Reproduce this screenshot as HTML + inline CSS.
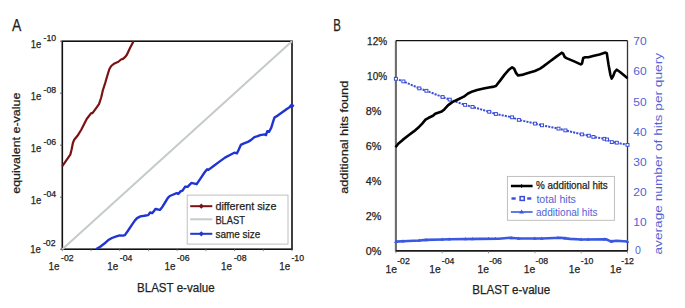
<!DOCTYPE html>
<html><head><meta charset="utf-8"><style>
html,body{margin:0;padding:0;background:#fff;}
svg{display:block;}
text{font-family:"Liberation Sans",sans-serif;stroke-width:0.25px;paint-order:stroke;}
</style></head><body>
<svg width="685" height="308" viewBox="0 0 685 308">
<rect width="685" height="308" fill="#fff"/>
<rect x="62.3" y="41.2" width="229.7" height="208.0" fill="none" stroke="#111" stroke-width="1.6"/>
<line x1="60.0" y1="41.2" x2="62.3" y2="41.2" stroke="#555" stroke-width="0.9"/>
<line x1="60.0" y1="93.2" x2="62.3" y2="93.2" stroke="#555" stroke-width="0.9"/>
<line x1="60.0" y1="145.2" x2="62.3" y2="145.2" stroke="#555" stroke-width="0.9"/>
<line x1="60.0" y1="197.2" x2="62.3" y2="197.2" stroke="#555" stroke-width="0.9"/>
<line x1="60.0" y1="249.2" x2="62.3" y2="249.2" stroke="#555" stroke-width="0.9"/>
<line x1="62.3" y1="249.2" x2="62.3" y2="251.2" stroke="#777" stroke-width="0.8"/>
<line x1="91.0" y1="249.2" x2="91.0" y2="251.2" stroke="#777" stroke-width="0.8"/>
<line x1="119.7" y1="249.2" x2="119.7" y2="251.2" stroke="#777" stroke-width="0.8"/>
<line x1="148.4" y1="249.2" x2="148.4" y2="251.2" stroke="#777" stroke-width="0.8"/>
<line x1="177.1" y1="249.2" x2="177.1" y2="251.2" stroke="#777" stroke-width="0.8"/>
<line x1="205.9" y1="249.2" x2="205.9" y2="251.2" stroke="#777" stroke-width="0.8"/>
<line x1="234.6" y1="249.2" x2="234.6" y2="251.2" stroke="#777" stroke-width="0.8"/>
<line x1="263.3" y1="249.2" x2="263.3" y2="251.2" stroke="#777" stroke-width="0.8"/>
<line x1="292.0" y1="249.2" x2="292.0" y2="251.2" stroke="#777" stroke-width="0.8"/>
<line x1="62.3" y1="249.2" x2="292.0" y2="41.2" stroke="#c5cbc8" stroke-width="2"/>
<polyline points="62.3,166.2 65.8,161.2 70.3,154.7 71.6,149.5 72.9,143.0 74.2,139.7 77.5,135.8 81.4,129.5 86.7,119.0 91.2,113.2 92.5,113.2 95.8,108.6 99.0,104.1 101.2,97.5 102.8,90.5 105.4,82.3 107.3,75.8 109.3,69.3 111.2,66.0 114.5,63.4 118.4,61.8 121.0,59.5 123.0,58.9 125.5,56.6 127.0,54.5 130.0,48.0 133.6,41.2" stroke="#7a1214" stroke-width="2.2" fill="none" stroke-linejoin="round"/>
<polyline points="96.3,249.0 100.2,246.8 104.1,243.8 108.0,240.3 111.9,238.0 116.4,236.3 119.7,235.4 122.9,235.6 124.9,235.1 128.8,229.5 132.7,223.7 135.0,220.4 137.1,218.1 140.4,216.4 144.3,215.8 148.2,215.1 150.1,212.5 152.1,213.2 154.0,211.2 155.3,209.0 157.3,209.3 159.9,209.9 162.5,206.7 165.7,201.5 167.7,198.2 169.8,196.0 173.4,194.5 176.6,193.2 178.3,194.0 180.5,191.4 182.5,190.6 185.0,186.8 187.6,186.8 191.5,182.9 193.4,183.3 196.7,184.2 200.6,178.4 204.5,172.5 207.1,169.3 208.4,169.9 213.6,166.0 218.8,162.1 225.0,157.6 230.4,154.7 234.3,152.7 236.9,153.4 238.8,149.5 240.8,144.9 243.4,143.6 247.9,141.9 250.5,140.4 254.4,137.1 257.7,136.2 260.2,135.1 264.7,134.4 266.0,135.1 267.3,131.2 269.0,131.8 271.2,127.9 273.2,121.4 274.5,117.5 277.7,115.6 282.3,112.3 286.8,109.1 291.8,105.8" stroke="#2034d0" stroke-width="2.4" fill="none" stroke-linejoin="round"/>
<path d="M291.8,102.8 L294.5,105.8 L291.8,108.8 L289.1,105.8Z" fill="#2034d0"/>
<rect x="187.2" y="195.1" width="100.8" height="49" fill="#fff" stroke="#b8b8b8" stroke-width="0.9"/>
<line x1="190.2" y1="206.2" x2="212.3" y2="206.2" stroke="#7a1214" stroke-width="2"/>
<path d="M201.3,203.6 L203.9,206.2 L201.3,208.8 L198.7,206.2Z" fill="#7a1214"/>
<line x1="190.2" y1="219.3" x2="212.3" y2="219.3" stroke="#c5cbc8" stroke-width="2"/>
<line x1="190.2" y1="233.8" x2="212.3" y2="233.8" stroke="#2236d2" stroke-width="2"/>
<path d="M201.3,231.2 L203.9,233.8 L201.3,236.4 L198.7,233.8Z" fill="#2236d2"/>
<text x="215.4" y="210.2" font-size="11" fill="#231f20" stroke="#231f20" text-anchor="start" textLength="61" lengthAdjust="spacingAndGlyphs">different size</text>
<text x="215.4" y="223.5" font-size="11" fill="#231f20" stroke="#231f20" text-anchor="start" textLength="29.5" lengthAdjust="spacingAndGlyphs">BLAST</text>
<text x="215.4" y="237.8" font-size="11" fill="#231f20" stroke="#231f20" text-anchor="start" textLength="45" lengthAdjust="spacingAndGlyphs">same size</text>
<text x="30.8" y="47.8" font-size="11.2" fill="#231f20" stroke="#231f20" text-anchor="start" textLength="10.6" lengthAdjust="spacingAndGlyphs">1e</text>
<text x="43.5" y="41.0" font-size="8.2" fill="#231f20" stroke="#231f20" text-anchor="start" textLength="12.6" lengthAdjust="spacingAndGlyphs">-10</text>
<text x="30.8" y="99.8" font-size="11.2" fill="#231f20" stroke="#231f20" text-anchor="start" textLength="10.6" lengthAdjust="spacingAndGlyphs">1e</text>
<text x="43.5" y="93.0" font-size="8.2" fill="#231f20" stroke="#231f20" text-anchor="start" textLength="12.6" lengthAdjust="spacingAndGlyphs">-08</text>
<text x="30.8" y="151.8" font-size="11.2" fill="#231f20" stroke="#231f20" text-anchor="start" textLength="10.6" lengthAdjust="spacingAndGlyphs">1e</text>
<text x="43.5" y="145.0" font-size="8.2" fill="#231f20" stroke="#231f20" text-anchor="start" textLength="12.6" lengthAdjust="spacingAndGlyphs">-06</text>
<text x="30.8" y="203.8" font-size="11.2" fill="#231f20" stroke="#231f20" text-anchor="start" textLength="10.6" lengthAdjust="spacingAndGlyphs">1e</text>
<text x="43.5" y="197.0" font-size="8.2" fill="#231f20" stroke="#231f20" text-anchor="start" textLength="12.6" lengthAdjust="spacingAndGlyphs">-04</text>
<text x="30.2" y="253.0" font-size="11.2" fill="#231f20" stroke="#231f20" text-anchor="start" textLength="10.6" lengthAdjust="spacingAndGlyphs">1e</text>
<text x="42.9" y="246.2" font-size="8.2" fill="#231f20" stroke="#231f20" text-anchor="start" textLength="12.6" lengthAdjust="spacingAndGlyphs">-02</text>
<text x="48.4" y="270.1" font-size="11.2" fill="#231f20" stroke="#231f20" text-anchor="start" textLength="11.0" lengthAdjust="spacingAndGlyphs">1e</text>
<text x="61.1" y="260.8" font-size="8.2" fill="#231f20" stroke="#231f20" text-anchor="start" textLength="12.6" lengthAdjust="spacingAndGlyphs">-02</text>
<text x="107.2" y="270.1" font-size="11.2" fill="#231f20" stroke="#231f20" text-anchor="start" textLength="11.0" lengthAdjust="spacingAndGlyphs">1e</text>
<text x="119.8" y="260.8" font-size="8.2" fill="#231f20" stroke="#231f20" text-anchor="start" textLength="12.6" lengthAdjust="spacingAndGlyphs">-04</text>
<text x="164.4" y="270.1" font-size="11.2" fill="#231f20" stroke="#231f20" text-anchor="start" textLength="11.0" lengthAdjust="spacingAndGlyphs">1e</text>
<text x="176.9" y="260.8" font-size="8.2" fill="#231f20" stroke="#231f20" text-anchor="start" textLength="12.6" lengthAdjust="spacingAndGlyphs">-06</text>
<text x="221.1" y="270.1" font-size="11.2" fill="#231f20" stroke="#231f20" text-anchor="start" textLength="11.0" lengthAdjust="spacingAndGlyphs">1e</text>
<text x="233.9" y="260.8" font-size="8.2" fill="#231f20" stroke="#231f20" text-anchor="start" textLength="12.6" lengthAdjust="spacingAndGlyphs">-08</text>
<text x="279.2" y="270.1" font-size="11.2" fill="#231f20" stroke="#231f20" text-anchor="start" textLength="11.0" lengthAdjust="spacingAndGlyphs">1e</text>
<text x="291.4" y="260.8" font-size="8.2" fill="#231f20" stroke="#231f20" text-anchor="start" textLength="12.6" lengthAdjust="spacingAndGlyphs">-10</text>
<text x="137.0" y="291.6" font-size="12.3" fill="#231f20" stroke="#231f20" text-anchor="start" textLength="77.6" lengthAdjust="spacingAndGlyphs">BLAST e-value</text>
<text x="20.3" y="143.2" font-size="10.5" fill="#231f20" stroke="#231f20" text-anchor="middle" textLength="101.2" lengthAdjust="spacingAndGlyphs" transform="rotate(-90 20.3 143.2)">equivalent e-value</text>
<text x="11.9" y="30.9" font-size="16" fill="#231f20" stroke="#231f20" text-anchor="start" textLength="9.3" lengthAdjust="spacingAndGlyphs">A</text>
<line x1="395.9" y1="40.6" x2="395.9" y2="251.70000000000002" stroke="#6c6c6c" stroke-width="2.1"/>
<line x1="395.9" y1="250.9" x2="627.5" y2="250.9" stroke="#1a1a1a" stroke-width="1.6"/>
<line x1="395.9" y1="40.6" x2="627.5" y2="40.6" stroke="#111" stroke-width="1.3"/>
<line x1="627.5" y1="40.6" x2="627.5" y2="250.9" stroke="#333" stroke-width="1.3"/>
<line x1="395.9" y1="250.9" x2="395.9" y2="253.3" stroke="#777" stroke-width="0.8"/>
<line x1="442.2" y1="250.9" x2="442.2" y2="253.3" stroke="#777" stroke-width="0.8"/>
<line x1="488.5" y1="250.9" x2="488.5" y2="253.3" stroke="#777" stroke-width="0.8"/>
<line x1="534.9" y1="250.9" x2="534.9" y2="253.3" stroke="#777" stroke-width="0.8"/>
<line x1="581.2" y1="250.9" x2="581.2" y2="253.3" stroke="#777" stroke-width="0.8"/>
<line x1="627.5" y1="250.9" x2="627.5" y2="253.3" stroke="#777" stroke-width="0.8"/>
<polyline points="395.9,241.6 402.7,241.3 419.3,240.5 426.1,239.9 442.2,239.5 450.0,239.2 479.2,238.9 498.7,238.7 510.0,237.7 518.8,238.5 535.3,238.5 542.1,238.5 560.6,237.7 570.0,238.9 581.7,239.5 606.0,239.3 610.9,241.4 616.7,240.7 627.4,241.5" stroke="#3a58e0" stroke-width="2.6" fill="none" stroke-linejoin="round"/>
<path d="M395.9,239.6 L397.7,242.9 L394.1,242.9Z" fill="#3a58e0"/>
<path d="M402.9,239.3 L404.7,242.6 L401.1,242.6Z" fill="#3a58e0"/>
<path d="M419.1,238.5 L420.9,241.8 L417.3,241.8Z" fill="#3a58e0"/>
<path d="M426.0,237.9 L427.8,241.2 L424.2,241.2Z" fill="#3a58e0"/>
<path d="M442.2,237.5 L444.0,240.8 L440.4,240.8Z" fill="#3a58e0"/>
<path d="M449.2,237.2 L451.0,240.5 L447.4,240.5Z" fill="#3a58e0"/>
<path d="M465.4,237.0 L467.2,240.3 L463.6,240.3Z" fill="#3a58e0"/>
<path d="M472.4,237.0 L474.2,240.3 L470.6,240.3Z" fill="#3a58e0"/>
<path d="M488.5,236.8 L490.3,240.1 L486.7,240.1Z" fill="#3a58e0"/>
<path d="M495.5,236.7 L497.3,240.0 L493.7,240.0Z" fill="#3a58e0"/>
<path d="M511.7,235.9 L513.5,239.2 L509.9,239.2Z" fill="#3a58e0"/>
<path d="M518.7,236.5 L520.5,239.8 L516.9,239.8Z" fill="#3a58e0"/>
<path d="M534.9,236.5 L536.7,239.8 L533.1,239.8Z" fill="#3a58e0"/>
<path d="M541.8,236.5 L543.6,239.8 L540.0,239.8Z" fill="#3a58e0"/>
<path d="M558.0,235.8 L559.8,239.1 L556.2,239.1Z" fill="#3a58e0"/>
<path d="M565.0,236.3 L566.8,239.6 L563.2,239.6Z" fill="#3a58e0"/>
<path d="M581.2,237.5 L583.0,240.8 L579.4,240.8Z" fill="#3a58e0"/>
<path d="M588.2,237.4 L590.0,240.7 L586.4,240.7Z" fill="#3a58e0"/>
<path d="M604.3,237.3 L606.1,240.6 L602.5,240.6Z" fill="#3a58e0"/>
<path d="M611.3,239.4 L613.1,242.7 L609.5,242.7Z" fill="#3a58e0"/>
<path d="M627.5,239.5 L629.3,242.8 L625.7,242.8Z" fill="#3a58e0"/>
<polyline points="395.9,78.8 403.4,81.4 419.3,88.4 426.4,90.8 442.6,97.0 449.7,99.6 465.1,104.9 472.5,106.9 489.2,111.8 495.9,114.0 512.1,117.3 518.9,119.9 535.1,123.6 542.0,125.3 558.5,128.6 565.4,130.4 581.9,134.4 588.8,135.7 593.4,136.9 604.4,138.8 607.0,139.5 611.8,142.1 616.8,142.7 627.5,144.9" stroke="#3a4dd6" stroke-width="2" fill="none" stroke-dasharray="2.1 1.1"/>
<rect x="394.4" y="77.4" width="3.0" height="2.8" fill="#fff" stroke="#3a4dd6" stroke-width="1"/>
<rect x="401.9" y="80.0" width="3.0" height="2.8" fill="#fff" stroke="#3a4dd6" stroke-width="1"/>
<rect x="417.8" y="87.0" width="3.0" height="2.8" fill="#fff" stroke="#3a4dd6" stroke-width="1"/>
<rect x="424.9" y="89.4" width="3.0" height="2.8" fill="#fff" stroke="#3a4dd6" stroke-width="1"/>
<rect x="441.1" y="95.6" width="3.0" height="2.8" fill="#fff" stroke="#3a4dd6" stroke-width="1"/>
<rect x="448.2" y="98.2" width="3.0" height="2.8" fill="#fff" stroke="#3a4dd6" stroke-width="1"/>
<rect x="463.6" y="103.5" width="3.0" height="2.8" fill="#fff" stroke="#3a4dd6" stroke-width="1"/>
<rect x="471.0" y="105.5" width="3.0" height="2.8" fill="#fff" stroke="#3a4dd6" stroke-width="1"/>
<rect x="487.7" y="110.4" width="3.0" height="2.8" fill="#fff" stroke="#3a4dd6" stroke-width="1"/>
<rect x="494.4" y="112.6" width="3.0" height="2.8" fill="#fff" stroke="#3a4dd6" stroke-width="1"/>
<rect x="510.6" y="115.9" width="3.0" height="2.8" fill="#fff" stroke="#3a4dd6" stroke-width="1"/>
<rect x="517.4" y="118.5" width="3.0" height="2.8" fill="#fff" stroke="#3a4dd6" stroke-width="1"/>
<rect x="533.6" y="122.2" width="3.0" height="2.8" fill="#fff" stroke="#3a4dd6" stroke-width="1"/>
<rect x="540.5" y="123.9" width="3.0" height="2.8" fill="#fff" stroke="#3a4dd6" stroke-width="1"/>
<rect x="557.0" y="127.2" width="3.0" height="2.8" fill="#fff" stroke="#3a4dd6" stroke-width="1"/>
<rect x="563.9" y="129.0" width="3.0" height="2.8" fill="#fff" stroke="#3a4dd6" stroke-width="1"/>
<rect x="580.4" y="133.0" width="3.0" height="2.8" fill="#fff" stroke="#3a4dd6" stroke-width="1"/>
<rect x="587.3" y="134.3" width="3.0" height="2.8" fill="#fff" stroke="#3a4dd6" stroke-width="1"/>
<rect x="591.9" y="135.5" width="3.0" height="2.8" fill="#fff" stroke="#3a4dd6" stroke-width="1"/>
<rect x="602.9" y="137.4" width="3.0" height="2.8" fill="#fff" stroke="#3a4dd6" stroke-width="1"/>
<rect x="605.5" y="138.1" width="3.0" height="2.8" fill="#fff" stroke="#3a4dd6" stroke-width="1"/>
<rect x="610.3" y="140.7" width="3.0" height="2.8" fill="#fff" stroke="#3a4dd6" stroke-width="1"/>
<rect x="615.3" y="141.3" width="3.0" height="2.8" fill="#fff" stroke="#3a4dd6" stroke-width="1"/>
<rect x="626.0" y="143.5" width="3.0" height="2.8" fill="#fff" stroke="#3a4dd6" stroke-width="1"/>
<polyline points="395.6,147.2 398.2,143.8 402.7,139.9 408.6,135.3 413.8,131.4 419.0,126.9 422.2,123.6 425.5,119.7 428.7,117.8 433.0,115.8 435.2,113.8 441.7,111.6 444.3,109.4 448.2,105.1 452.7,101.9 457.9,99.5 463.8,96.7 468.0,93.5 472.5,91.4 477.1,90.1 483.6,88.6 488.8,87.5 494.0,86.6 495.9,86.0 500.5,80.1 504.4,74.9 508.9,69.7 512.1,67.3 514.1,68.6 516.0,72.9 518.0,75.5 523.2,74.6 529.7,72.5 534.9,71.0 540.1,68.6 543.0,66.6 549.5,61.8 556.0,56.9 561.8,52.7 563.1,53.6 564.8,57.1 567.0,58.4 574.2,61.4 580.7,64.4 582.0,63.6 583.2,58.0 585.2,57.3 588.4,57.3 593.0,56.0 599.5,54.4 605.5,52.6 606.8,53.2 608.5,64.4 610.4,74.8 611.7,78.6 613.0,76.4 614.9,71.6 616.8,69.7 619.7,71.7 624.0,75.3 627.5,78.3" stroke="#000" stroke-width="2.6" fill="none" stroke-linejoin="round"/>
<text x="365.7" y="255.1" font-size="10.7" fill="#231f20" stroke="#231f20" text-anchor="start" textLength="15.6" lengthAdjust="spacingAndGlyphs">0%</text>
<text x="365.7" y="220.1" font-size="10.7" fill="#231f20" stroke="#231f20" text-anchor="start" textLength="15.6" lengthAdjust="spacingAndGlyphs">2%</text>
<text x="365.7" y="185.1" font-size="10.7" fill="#231f20" stroke="#231f20" text-anchor="start" textLength="15.6" lengthAdjust="spacingAndGlyphs">4%</text>
<text x="365.7" y="150.1" font-size="10.7" fill="#231f20" stroke="#231f20" text-anchor="start" textLength="15.6" lengthAdjust="spacingAndGlyphs">6%</text>
<text x="365.7" y="115.10000000000001" font-size="10.7" fill="#231f20" stroke="#231f20" text-anchor="start" textLength="15.6" lengthAdjust="spacingAndGlyphs">8%</text>
<text x="367.1" y="80.10000000000001" font-size="10.7" fill="#231f20" stroke="#231f20" text-anchor="start" textLength="20.0" lengthAdjust="spacingAndGlyphs">10%</text>
<text x="367.1" y="45.10000000000001" font-size="10.7" fill="#231f20" stroke="#231f20" text-anchor="start" textLength="20.0" lengthAdjust="spacingAndGlyphs">12%</text>
<text x="635.1" y="253.5" font-size="11" fill="#5262d4" text-anchor="start" textLength="5.9" lengthAdjust="spacingAndGlyphs">0</text>
<text x="633.3" y="226.35" font-size="11" fill="#5262d4" text-anchor="start" textLength="13.4" lengthAdjust="spacingAndGlyphs">10</text>
<text x="633.3" y="196.15" font-size="11" fill="#5262d4" text-anchor="start" textLength="13.4" lengthAdjust="spacingAndGlyphs">20</text>
<text x="633.3" y="165.95" font-size="11" fill="#5262d4" text-anchor="start" textLength="13.4" lengthAdjust="spacingAndGlyphs">30</text>
<text x="633.3" y="135.75" font-size="11" fill="#5262d4" text-anchor="start" textLength="13.4" lengthAdjust="spacingAndGlyphs">40</text>
<text x="633.3" y="105.55" font-size="11" fill="#5262d4" text-anchor="start" textLength="13.4" lengthAdjust="spacingAndGlyphs">50</text>
<text x="633.3" y="75.35" font-size="11" fill="#5262d4" text-anchor="start" textLength="13.4" lengthAdjust="spacingAndGlyphs">60</text>
<text x="633.3" y="45.15" font-size="11" fill="#5262d4" text-anchor="start" textLength="13.4" lengthAdjust="spacingAndGlyphs">70</text>
<text x="385.5" y="273.2" font-size="11.2" fill="#231f20" stroke="#231f20" text-anchor="start" textLength="11.5" lengthAdjust="spacingAndGlyphs">1e</text>
<text x="397.2" y="263.9" font-size="8.2" fill="#231f20" stroke="#231f20" text-anchor="start" textLength="12.6" lengthAdjust="spacingAndGlyphs">-02</text>
<text x="429.2" y="273.2" font-size="11.2" fill="#231f20" stroke="#231f20" text-anchor="start" textLength="11.5" lengthAdjust="spacingAndGlyphs">1e</text>
<text x="441.8" y="263.9" font-size="8.2" fill="#231f20" stroke="#231f20" text-anchor="start" textLength="12.6" lengthAdjust="spacingAndGlyphs">-04</text>
<text x="477.6" y="273.2" font-size="11.2" fill="#231f20" stroke="#231f20" text-anchor="start" textLength="11.5" lengthAdjust="spacingAndGlyphs">1e</text>
<text x="489.3" y="263.9" font-size="8.2" fill="#231f20" stroke="#231f20" text-anchor="start" textLength="12.6" lengthAdjust="spacingAndGlyphs">-06</text>
<text x="523.8" y="273.2" font-size="11.2" fill="#231f20" stroke="#231f20" text-anchor="start" textLength="11.5" lengthAdjust="spacingAndGlyphs">1e</text>
<text x="535.5" y="263.9" font-size="8.2" fill="#231f20" stroke="#231f20" text-anchor="start" textLength="12.6" lengthAdjust="spacingAndGlyphs">-08</text>
<text x="568.8" y="273.2" font-size="11.2" fill="#231f20" stroke="#231f20" text-anchor="start" textLength="11.5" lengthAdjust="spacingAndGlyphs">1e</text>
<text x="580.8" y="263.9" font-size="8.2" fill="#231f20" stroke="#231f20" text-anchor="start" textLength="12.6" lengthAdjust="spacingAndGlyphs">-10</text>
<text x="610.0" y="273.2" font-size="11.2" fill="#231f20" stroke="#231f20" text-anchor="start" textLength="11.5" lengthAdjust="spacingAndGlyphs">1e</text>
<text x="621.3" y="263.9" font-size="8.2" fill="#231f20" stroke="#231f20" text-anchor="start" textLength="12.6" lengthAdjust="spacingAndGlyphs">-12</text>
<text x="472.3" y="294.2" font-size="12.3" fill="#231f20" stroke="#231f20" text-anchor="start" textLength="77.8" lengthAdjust="spacingAndGlyphs">BLAST e-value</text>
<text x="348.0" y="137.3" font-size="11" fill="#231f20" stroke="#231f20" text-anchor="middle" textLength="113" lengthAdjust="spacingAndGlyphs" transform="rotate(-90 348 137.3)">additional hits found</text>
<text x="661.6" y="153.7" font-size="11.2" fill="#5262d4" text-anchor="middle" textLength="201.6" lengthAdjust="spacingAndGlyphs" transform="rotate(-90 661.6 153.7)">average number of hits per query</text>
<text x="333.3" y="30.6" font-size="15.6" fill="#231f20" stroke="#231f20" text-anchor="start" textLength="7.6" lengthAdjust="spacingAndGlyphs">B</text>
<rect x="507.4" y="176.4" width="107" height="43.9" fill="#fff" stroke="#b8b8b8" stroke-width="0.9"/>
<line x1="510.9" y1="186" x2="532.6" y2="186" stroke="#000" stroke-width="2.5"/>
<line x1="521.6" y1="184.2" x2="521.6" y2="187.8" stroke="#000" stroke-width="1"/>
<rect x="511.5" y="197.3" width="4.2" height="2.4" fill="#3a4dd6"/>
<rect x="527.2" y="197.3" width="4.1" height="2.4" fill="#3a4dd6"/>
<rect x="520.1" y="196.6" width="4.2" height="3.8" fill="#fff" stroke="#3a4dd6" stroke-width="1.5"/>
<line x1="510.9" y1="212" x2="532.6" y2="212" stroke="#3a58e0" stroke-width="1.6"/>
<path d="M521.6,209.4 L524,213.6 L519.2,213.6Z" fill="#3a58e0"/>
<text x="536" y="189.2" font-size="10.6" fill="#231f20" stroke="#231f20" text-anchor="start" textLength="71.8" lengthAdjust="spacingAndGlyphs">% additional hits</text>
<text x="536.4" y="203.0" font-size="10.6" fill="#5262d4" text-anchor="start" textLength="39.5" lengthAdjust="spacingAndGlyphs">total hits</text>
<text x="536" y="215.5" font-size="10.6" fill="#5262d4" text-anchor="start" textLength="61.5" lengthAdjust="spacingAndGlyphs">additional hits</text>
</svg>
</body></html>
